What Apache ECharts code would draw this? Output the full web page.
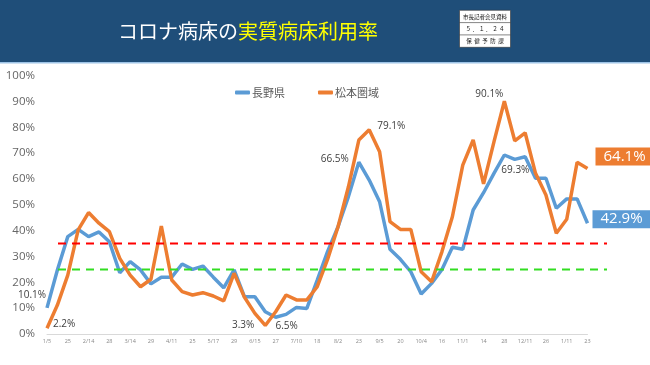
<!DOCTYPE html>
<html>
<head>
<meta charset="utf-8">
<script src="https://cdn.jsdelivr.net/npm/echarts@6/dist/echarts.min.js"></script>
<style>
html,body{margin:0;padding:0;background:#fff;}
#c{width:650px;height:365px;}
</style>
</head>
<body>
<div id="c"></div>
<script>
// ---- data ----
const tickLabels = ['1/5','25','2/14','28','3/14','29','4/11','25','5/17','29','6/15','27','7/10','18','8/2','23','9/5','20','10/4','16','11/1','14','28','12/11','26','1/11','23'];
const naganoValues = [10.1,24.8,37.7,40.5,37.7,39.5,35.7,23.7,28,24.8,19.4,22,22,27.1,25,26.3,22,17.9,24.8,14.4,14.4,8.6,6.5,7.6,10.3,9.9,20.9,32,41.5,53.2,66.5,59.6,51.2,32.8,28.9,24.1,15.5,19.6,25,33.6,32.8,48,54.7,62.2,69.3,67.6,68.6,60.3,60.3,48.7,52.3,52.3,42.9];
const matsumotoValues = [2.2,11.2,22.8,40.3,47,42.9,39.6,29.3,22.8,18.3,21.2,41.8,20.9,16.4,15.1,16,14.7,12.8,23.5,14.2,8,3.3,8.6,15.1,13.2,13.2,18.3,29,41.5,57,75.1,79.1,70.6,43.5,40.5,40.5,24.1,20.2,31.9,45.4,65.4,75.1,58.1,74.4,90.1,74.8,77.9,62.2,53.8,39,44.4,66.5,64.1];
const redThreshold = 35;
const greenThreshold = 25;
const thresholdSpan = [0, 1];
const yTicks = [0,10,20,30,40,50,60,70,80,90,100];
const seriesNames = ['長野県','松本圏域'];

// categories: labelled every second point
const categories = [];
for (let i = 0; i < naganoValues.length; i++) {
  categories.push(i % 2 === 0 ? tickLabels[i / 2] : '');
}

const BLUE = '#5b9bd5', ORANGE = '#ed7d31';
const annFont = {fontSize: 10, color: '#404040', fontFamily: 'Open Sans, Noto Sans, sans-serif'};
function withLabels(values, spots) {
  return values.map((v, i) => {
    const s = spots[i];
    if (!s) return v;
    return {value: v, label: Object.assign({show: true, formatter: '{c}%'}, annFont, s)};
  });
}
const blueSpots = {
  0: {position: 'left', distance: 1, offset: [0, -13]},
  22: {position: 'bottom', distance: 4, offset: [11, 0]},
  30: {position: 'left', distance: 10, offset: [0, -3]},
  44: {position: 'bottom', distance: 4, offset: [11, 6]}
};
const orangeSpots = {
  0: {position: 'right', distance: 6, offset: [0, -4]},
  21: {position: 'left', distance: 11, offset: [0, 0]},
  31: {position: 'right', distance: 8, offset: [0, -4]},
  44: {position: 'top', distance: 5, offset: [-15, 3]}
};

const chart = echarts.init(document.getElementById('c'), null, {renderer: 'canvas'});
const jp = 'Noto Sans CJK JP, sans-serif';
const opt = {
  animation: false,
  backgroundColor: '#ffffff',
  graphic: [
    {type: 'rect', left: 0, top: 0, shape: {width: 650, height: 62}, style: {fill: '#1f4e79'}, z: 0},
    {type: 'rect', left: 0, top: 62, shape: {width: 650, height: 1.5}, style: {fill: '#9dc3e6'}, z: 0},
    {type: 'text', z: 5, style: {
      x: 248, y: 31, align: 'center', verticalAlign: 'middle',
      text: '{w|コロナ病床の}{y|実質病床利用率}',
      rich: {
        w: {fill: '#ffffff', fontSize: 20, fontFamily: jp},
        y: {fill: '#ffff00', fontSize: 20, fontFamily: jp}
      }
    }},
    {type: 'group', left: 457, top: 10, z: 5, children: [
      {type: 'rect', shape: {x: 0, y: 0, width: 51, height: 37}, style: {fill: '#ffffff', stroke: '#333', lineWidth: 0.6}},
      {type: 'line', shape: {x1: 0, y1: 12.3, x2: 51, y2: 12.3}, style: {stroke: '#333', lineWidth: 0.6}},
      {type: 'line', shape: {x1: 0, y1: 24.6, x2: 51, y2: 24.6}, style: {stroke: '#333', lineWidth: 0.6}},
      {type: 'text', style: {x: 25.5, y: 6.3, align: 'center', verticalAlign: 'middle', text: '市長記者会見資料', fontSize: 5.5, fill: '#111', fontFamily: jp}},
      {type: 'text', style: {x: 25.5, y: 18.6, align: 'center', verticalAlign: 'middle', text: '５ ． １ ． ２ ４', fontSize: 5.5, fill: '#111', fontFamily: jp}},
      {type: 'text', style: {x: 25.5, y: 30.9, align: 'center', verticalAlign: 'middle', text: '保  健  予  防  課', fontSize: 5.5, fill: '#111', fontFamily: jp}}
    ]}
  ],
  legend: {
    left: 230, top: 82, itemGap: 33, itemWidth: 15, itemHeight: 4, icon: 'roundRect',
    textStyle: {fontSize: 11, color: '#595959', fontFamily: jp, padding: [0, 0, 0, -3]},
    data: seriesNames
  },
  grid: [
    {left: 47, right: 62.5, top: 75.7, bottom: 31, containLabel: false},
    {left: 58, right: 43, top: 75.7, bottom: 31, containLabel: false}
  ],
  xAxis: [
    {type: 'category', data: categories, boundaryGap: false, gridIndex: 0,
     axisLine: {lineStyle: {color: '#d9d9d9', width: 1}},
     axisTick: {show: false},
     axisLabel: {interval: 1, fontSize: 5.5, color: '#888', margin: 4, fontFamily: 'Open Sans, sans-serif'},
     splitLine: {show: false}},
    {type: 'value', min: 0, max: 1, show: false, gridIndex: 1}
  ],
  yAxis: [
    {type: 'value', min: yTicks[0], max: yTicks[yTicks.length - 1], interval: 10, gridIndex: 0,
     axisLine: {show: false}, axisTick: {show: false}, splitLine: {show: false},
     axisLabel: {formatter: '{value}%', fontSize: 11.5, color: '#666', margin: 12, fontFamily: 'Open Sans, Noto Sans, sans-serif'}},
    {type: 'value', min: yTicks[0], max: yTicks[yTicks.length - 1], gridIndex: 1, show: false}
  ],
  series: [
    {name: 'red', type: 'line', xAxisIndex: 1, yAxisIndex: 1, symbol: 'none', silent: true, z: 6,
     data: thresholdSpan.map(x => [x, redThreshold]),
     lineStyle: {color: '#ff0000', width: 2, type: [8, 6]}},
    {name: 'green', type: 'line', xAxisIndex: 1, yAxisIndex: 1, symbol: 'none', silent: true, z: 6,
     data: thresholdSpan.map(x => [x, greenThreshold]),
     lineStyle: {color: '#33dd22', width: 2, type: [8, 6]}},
    {name: seriesNames[0], type: 'line', data: withLabels(naganoValues, blueSpots),
     symbol: 'circle', symbolSize: 0, showSymbol: true, showAllSymbol: true,
     lineStyle: {color: BLUE, width: 3.5}, itemStyle: {color: BLUE}, z: 3,
     endLabel: {show: true, formatter: '{c}%', color: '#fff', backgroundColor: BLUE, fontSize: 15,
       padding: [2, 8, 1, 8], distance: 5, offset: [0, -4], fontFamily: 'Open Sans, sans-serif'}},
    {name: seriesNames[1], type: 'line', data: withLabels(matsumotoValues, orangeSpots),
     symbol: 'circle', symbolSize: 0, showSymbol: true, showAllSymbol: true,
     lineStyle: {color: ORANGE, width: 3.5}, itemStyle: {color: ORANGE}, z: 4,
     endLabel: {show: true, formatter: '{c}%', color: '#fff', backgroundColor: ORANGE, fontSize: 15,
       padding: [2, 8, 1, 8], distance: 8, offset: [0, -12], fontFamily: 'Open Sans, sans-serif'}}
  ]
};
chart.setOption(opt);
</script>
</body>
</html>
